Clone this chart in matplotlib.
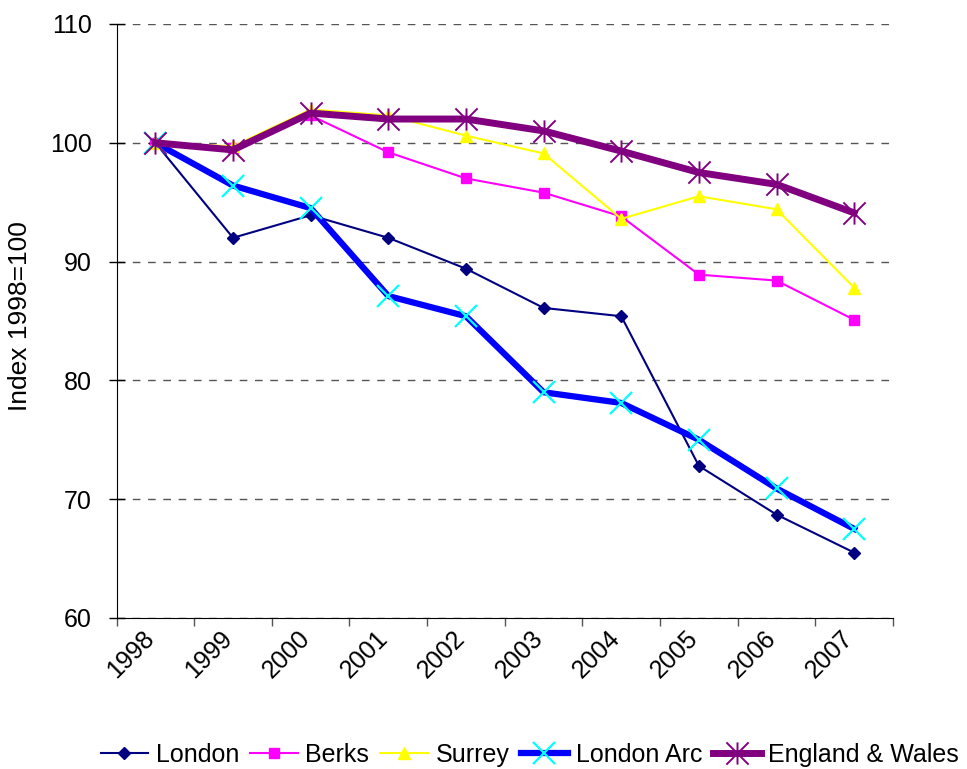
import numpy as np
import matplotlib
matplotlib.use("Agg")
import matplotlib.pyplot as plt
from matplotlib.path import Path
from matplotlib.transforms import ScaledTranslation

plt.rcParams['font.family'] = ['Liberation Sans', 'DejaVu Sans']

# Data (index, 1998 = 100)
years = ['1998', '1999', '2000', '2001', '2002', '2003', '2004', '2005', '2006', '2007']
london = [100, 92.0, 93.9, 92.0, 89.4, 86.1, 85.4, 72.8, 68.7, 65.5]
berks = [100, 99.6, 102.3, 99.2, 97.0, 95.8, 93.8, 88.9, 88.4, 85.1]
surrey = [100, 99.7, 102.8, 102.3, 100.6, 99.1, 93.6, 95.5, 94.4, 87.8]
london_arc = [100, 96.4, 94.5, 87.1, 85.4, 79.0, 78.1, 75.0, 70.9, 67.5]
eng_wales = [100, 99.4, 102.5, 102.0, 102.0, 101.0, 99.3, 97.5, 96.5, 94.1]

# Excel style star: vertical bar plus an x
star = Path([(0, -1), (0, 1), (-1, -1), (1, 1), (-1, 1), (1, -1)],
            [Path.MOVETO, Path.LINETO, Path.MOVETO, Path.LINETO, Path.MOVETO, Path.LINETO])

fig = plt.figure(figsize=(9.67, 7.69), dpi=100)
ax = fig.add_axes([0.1205, 0.1964, 0.803, 0.7724])

x = np.arange(len(years)) + 0.5

ax.plot(x, london, color='#000080', lw=1.5, marker='D', ms=6.5, label='London')
ax.plot(x, berks, color='#FF00FF', lw=1.5, marker='s', ms=7, label='Berks')
ax.plot(x, surrey, color='#FFFF00', lw=1.5, marker='^', ms=8.5, label='Surrey')
ax.plot(x, london_arc, color='#0000FF', lw=4.5, marker='x', ms=16, mew=1.6,
        mec='#00FFFF', label='London Arc')
ax.plot(x, eng_wales, color='#800080', lw=5, marker=star, ms=16, mew=1.4,
        mec='#800080', mfc='none', label='England & Wales')

ax.set_xlim(0, len(years))
ax.set_ylim(60, 110)
ax.set_yticks(np.arange(60, 111, 10))
ax.set_xticks(np.arange(len(years) + 1))
ax.set_xticklabels([])
ax.set_xticks(x, labels=years, minor=True)

ax.tick_params(axis='y', direction='inout', length=11.5, width=1, labelsize=18, pad=12)
ax.tick_params(axis='x', which='major', direction='out', length=6, width=1, color='#555555')
ax.tick_params(axis='x', which='minor', length=0, labelsize=18, pad=6)
shift = ScaledTranslation(-13 / 100, 0, fig.dpi_scale_trans)
for lab in ax.get_xticklabels(minor=True):
    lab.set_rotation(45)
    lab.set_ha('right')
    lab.set_va('top')
    lab.set_rotation_mode('anchor')
    lab.set_transform(lab.get_transform() + shift)

ax.grid(axis='y', color='#555555', lw=1, linestyle=(0, (5.5, 5.5)))
ax.set_axisbelow(True)
for s in ['top', 'right']:
    ax.spines[s].set_visible(False)

ax.set_ylabel('Index 1998=100', fontsize=19)
ax.yaxis.set_label_coords(-0.109, 0.508)

fig.legend(loc='center', bbox_to_anchor=(0.548, 0.018), ncol=5, frameon=False,
           fontsize=18, handlelength=1.9, handletextpad=0.3, columnspacing=0.45,
           borderpad=0, borderaxespad=0)

fig.savefig('out.png', dpi=100)
